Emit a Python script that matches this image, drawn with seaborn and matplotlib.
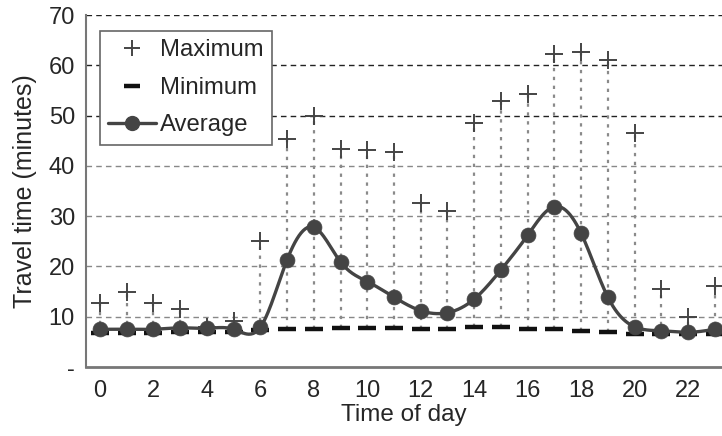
import numpy as np
import pandas as pd
import matplotlib
matplotlib.use("Agg")
import matplotlib.pyplot as plt
from matplotlib.lines import Line2D
import seaborn as sns

hours = list(range(24))
maximum = [12.7, 15.0, 12.8, 11.5, 7.9, 9.1, 25.0, 45.3, 50.0, 43.3, 43.1, 42.8,
           32.7, 31.0, 48.6, 52.9, 54.2, 62.2, 62.7, 61.0, 46.6, 15.6, 9.9, 16.1]
minimum = [6.8, 6.8, 6.8, 7.0, 7.0, 6.9, 7.3, 7.6, 7.6, 7.8, 7.8, 7.7,
           7.6, 7.6, 8.0, 8.0, 7.6, 7.6, 7.2, 6.9, 6.6, 6.6, 6.6, 6.6]
average = [7.5, 7.5, 7.5, 7.8, 7.7, 7.5, 7.9, 21.3, 27.8, 20.9, 17.0, 13.9,
           11.2, 10.8, 13.5, 19.3, 26.2, 31.9, 26.6, 13.9, 8.0, 7.2, 6.9, 7.5]
xtick_vals = list(range(0, 24, 2))
ytick_vals = [0, 10, 20, 30, 40, 50, 60, 70]
ytick_labels = ["-", "10", "20", "30", "40", "50", "60", "70"]
series_labels = ["Maximum", "Minimum", "Average"]


def natural_spline(x, y, xs):
    x = np.asarray(x, float); y = np.asarray(y, float)
    n = len(x); h = np.diff(x)
    A = np.zeros((n, n)); b = np.zeros(n)
    A[0, 0] = 1; A[-1, -1] = 1
    for i in range(1, n - 1):
        A[i, i - 1] = h[i - 1]; A[i, i] = 2 * (h[i - 1] + h[i]); A[i, i + 1] = h[i]
        b[i] = 3 * ((y[i + 1] - y[i]) / h[i] - (y[i] - y[i - 1]) / h[i - 1])
    c = np.linalg.solve(A, b)
    out = np.empty_like(xs)
    for k, xv in enumerate(xs):
        i = min(max(np.searchsorted(x, xv) - 1, 0), n - 2)
        dx = xv - x[i]
        bi = (y[i + 1] - y[i]) / h[i] - h[i] * (2 * c[i] + c[i + 1]) / 3
        di = (c[i + 1] - c[i]) / (3 * h[i])
        out[k] = y[i] + bi * dx + c[i] * dx ** 2 + di * dx ** 3
    return out


df = pd.DataFrame({"hour": hours, "max": maximum, "min": minimum, "avg": average})
xs = np.linspace(hours[0], hours[-1], 600)
smooth = pd.DataFrame({"hour": xs, "avg": natural_spline(hours, average, xs)})

sns.set_style("white")
plt.rcParams["font.family"] = ["Liberation Sans", "DejaVu Sans"]

fig = plt.figure(figsize=(7.22, 4.36), dpi=100)
ax = fig.add_axes([86 / 722, 1 - 367 / 436, 636 / 722, 352 / 436])

dark = "#444444"
ax.vlines(df["hour"], df["min"], df["max"], colors="#8a8a8a", linestyles=(0, (1.5, 2.5)),
          linewidth=1.6, zorder=1)
sns.scatterplot(data=df, x="hour", y="min", marker="_", s=170, linewidth=3.2,
                color="#111111", ax=ax, zorder=3, legend=False)
sns.lineplot(data=smooth, x="hour", y="avg", color=dark, linewidth=2.4, ax=ax,
             zorder=4, legend=False)
sns.scatterplot(data=df, x="hour", y="avg", marker="o", s=115, color=dark,
                edgecolor=dark, linewidth=0.5, ax=ax, zorder=5, legend=False)
sns.scatterplot(data=df, x="hour", y="max", marker="+", s=160, linewidth=1.4,
                color=dark, ax=ax, zorder=6, legend=False)

ax.set_xlim(-0.52, 23.27)
ax.set_ylim(0, 70)
ax.set_xticks(hours, minor=True)
ax.set_xticks(xtick_vals)
ax.set_yticks(ytick_vals)
ax.set_yticklabels(ytick_labels)
ax.tick_params(axis="x", which="both", direction="in", length=6, width=1.0,
               color="#666666", labelsize=17, pad=9)
ax.tick_params(axis="y", direction="in", length=5, width=1.0, color="#444444",
               labelsize=17, pad=8)

ax.grid(axis="y", linestyle=(0, (4, 3)), linewidth=1.0)
for gl, v in zip(ax.yaxis.get_gridlines(), ytick_vals):
    gl.set_color("#222222" if v >= 50 else "#888888")
    if v == 0:
        gl.set_visible(False)

for s in ["top", "right"]:
    ax.spines[s].set_visible(False)
ax.spines["left"].set_color("#777777")
ax.spines["left"].set_linewidth(1.5)
ax.spines["bottom"].set_color("#777777")
ax.spines["bottom"].set_linewidth(2.0)

ax.set_xlabel("Time of day", fontsize=17.5, labelpad=2)
ax.set_ylabel("Travel time (minutes)", fontsize=18, labelpad=8)

handles = [
    Line2D([], [], linestyle="none", marker="+", markersize=12, markeredgewidth=1.4, color=dark),
    Line2D([], [], linestyle="none", marker="_", markersize=12, markeredgewidth=3.2, color="#111111"),
    Line2D([], [], linestyle="-", linewidth=2.4, marker="o", markersize=10, color=dark),
]
leg = ax.legend(handles, series_labels, loc="upper left",
                bbox_to_anchor=(14 / 636, 1 - 16 / 352), borderaxespad=0,
                fontsize=17.2, frameon=True, fancybox=False, handlelength=2.0,
                handletextpad=0.15, labelspacing=0.65, borderpad=0.35)
leg.get_frame().set_edgecolor("#666666")
leg.get_frame().set_linewidth(1.2)
leg.get_frame().set_alpha(1)

fig.savefig("out.png", dpi=100)
